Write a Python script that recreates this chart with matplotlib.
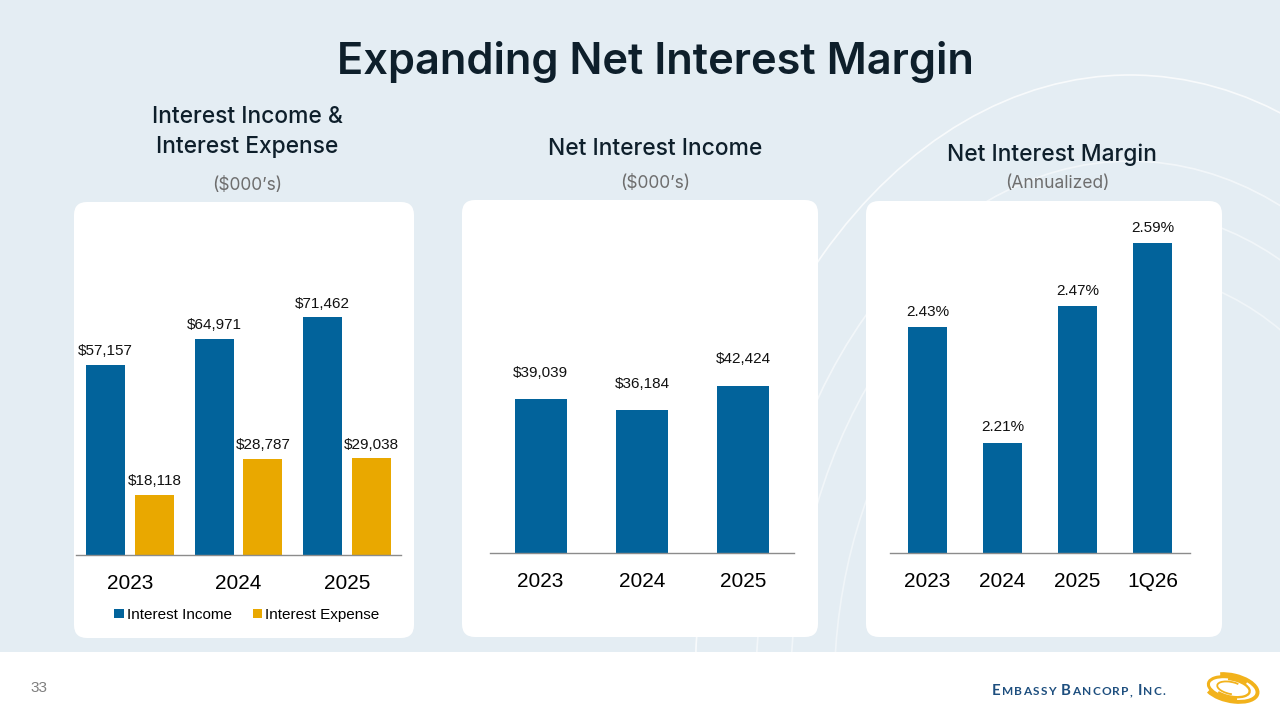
import matplotlib
matplotlib.use("Agg")
import matplotlib.pyplot as plt
from matplotlib.patches import FancyBboxPatch, Rectangle, Arc, Ellipse
import numpy as np

# ---------------- data ----------------
years3 = ["2023", "2024", "2025"]
interest_income = [57157, 64971, 71462]
interest_expense = [18118, 28787, 29038]
net_interest_income = [39039, 36184, 42424]
nim_periods = ["2023", "2024", "2025", "1Q26"]
nim_values = [2.43, 2.21, 2.47, 2.59]

title = "Expanding Net Interest Margin"
sub1 = "Interest Income &\nInterest Expense"
sub2 = "Net Interest Income"
sub3 = "Net Interest Margin"
unit1 = "($000\u2019s)"
unit3 = "(Annualized)"

BLUE = "#02639B"
GOLD = "#E9A800"
DARK = "#0E1F2B"
GRAY = "#6E6E6E"
BG = "#E4EDF3"

W, H = 1280, 720
fig = plt.figure(figsize=(12.8, 7.2), dpi=100)
fig.patch.set_facecolor(BG)
IN = fig.dpi_scale_trans


def inch(x, y):
    return x / 100.0, (H - y) / 100.0


def axrect(x0, y0, x1, y1):
    return [x0 / W, 1 - y1 / H, (x1 - x0) / W, (y1 - y0) / H]


# decorative curves
cx, cy = inch(1130, 690)
for k, a in [(1.0, 0.75), (0.86, 0.55), (0.78, 0.5), (0.68, 0.45)]:
    fig.add_artist(Ellipse((cx, cy), 8.7 * k, 12.3 * k, transform=IN,
                           facecolor="none", edgecolor="white", lw=1.2,
                           alpha=a, zorder=-10))
cx2, cy2 = inch(690, 900)
for r, a in [(2.7, 0.6), (3.3, 0.5)]:
    fig.add_artist(Ellipse((cx2, cy2), r, r * 1.3, transform=IN,
                           facecolor="none", edgecolor="white", lw=1.1,
                           alpha=a, zorder=-10))

# white panels
for (x0, y0, x1, y1) in [(74, 202, 414, 638), (462, 200, 818, 637), (866, 201, 1222, 637)]:
    px, py = inch(x0, y1)
    p = FancyBboxPatch((px, py), (x1 - x0) / 100, (y1 - y0) / 100,
                       boxstyle="round,pad=0,rounding_size=0.13",
                       transform=IN, facecolor="white", edgecolor="none", zorder=-5)
    fig.add_artist(p)

# bottom white band
band = Rectangle((0, 0), 12.8, (H - 652) / 100, transform=IN,
                 facecolor="white", edgecolor="none", zorder=-4)
fig.add_artist(band)

# titles
fig.text(655 / W, 1 - 62 / H, title, ha="center", va="center",
         fontsize=31.3, family="Inter", weight="semibold", color=DARK)
fig.text(247 / W, 1 - 132 / H, sub1, ha="center", va="center", fontsize=16.4,
         family="Inter", weight="medium", color=DARK, linespacing=1.45)
fig.text(247 / W, 1 - 185 / H, unit1, ha="center", va="center", fontsize=12.5,
         family="Inter", color=GRAY)
fig.text(655 / W, 1 - 149 / H, sub2, ha="center", va="center", fontsize=16.4,
         family="Inter", weight="medium", color=DARK)
fig.text(655 / W, 1 - 184 / H, unit1, ha="center", va="center", fontsize=12.5,
         family="Inter", color=GRAY)
fig.text(1052 / W, 1 - 155 / H, sub3, ha="center", va="center", fontsize=16.4,
         family="Inter", weight="medium", color=DARK)
fig.text(1057 / W, 1 - 183 / H, unit3, ha="center", va="center", fontsize=12.5,
         family="Inter", color=GRAY)

LBL = "Liberation Sans"


def style(ax):
    ax.set_facecolor("none")
    for s in ["top", "right", "left"]:
        ax.spines[s].set_visible(False)
    ax.spines["bottom"].set_color("#8C8C8C")
    ax.spines["bottom"].set_linewidth(1.0)
    ax.tick_params(axis="x", length=0, pad=14, labelsize=15, labelcolor="black")
    ax.set_yticks([])
    for t in ax.get_xticklabels():
        t.set_family(LBL)


# ---- panel 1 ----
ax1 = fig.add_axes(axrect(76, 215, 401, 555))
x = np.arange(len(years3))
w = 0.36
off = 0.226
b1 = ax1.bar(x - off, interest_income, w, color=BLUE, label="Interest Income")
b2 = ax1.bar(x + off, interest_expense, w, color=GOLD, label="Interest Expense")
ax1.set_xlim(-0.5, 2.5)
ax1.set_ylim(0, 102300)
ax1.set_xticks(x, years3)
style(ax1)
for bars, vals in [(b1, interest_income), (b2, interest_expense)]:
    for rect, v in zip(bars, vals):
        ax1.annotate(f"${v:,}", (rect.get_x() + rect.get_width() / 2, v),
                     xytext=(0, 5), textcoords="offset points", ha="center",
                     va="bottom", fontsize=11, family=LBL, color="#111111")
ax1.legend(loc="center", bbox_to_anchor=(247 / W, 1 - 615 / H),
           bbox_transform=fig.transFigure, ncol=2, frameon=False,
           handlelength=0.6, handleheight=0.6, handletextpad=0.2,
           columnspacing=1.4, prop={"family": LBL, "size": 11})

# ---- panel 2 ----
ax2 = fig.add_axes(axrect(490, 215, 794, 553))
b = ax2.bar(x, net_interest_income, 0.51, color=BLUE)
ax2.set_xlim(-0.5, 2.5)
ax2.set_ylim(0, 85700)
ax2.set_xticks(x, years3)
style(ax2)
for rect, v in zip(b, net_interest_income):
    ax2.annotate(f"${v:,}", (rect.get_x() + rect.get_width() / 2, v),
                 xytext=(0, 14), textcoords="offset points", ha="center",
                 va="bottom", fontsize=11, family=LBL, color="#111111")

# ---- panel 3 ----
ax3 = fig.add_axes(axrect(890, 215, 1190, 553))
x4 = np.arange(len(nim_periods))
b = ax3.bar(x4, nim_values, 0.52, color=BLUE, bottom=0)
ax3.set_xlim(-0.5, 3.5)
ax3.set_ylim(2.0, 2.643)
ax3.set_xticks(x4, nim_periods)
style(ax3)
for rect, v in zip(b, nim_values):
    ax3.annotate(f"{v:.2f}%", (rect.get_x() + rect.get_width() / 2, v),
                 xytext=(0, 6), textcoords="offset points", ha="center",
                 va="bottom", fontsize=11, family=LBL, color="#111111")

# ---- footer ----
fig.text(39 / W, 1 - 688 / H, "33", ha="center", va="center", fontsize=11,
         family=LBL, color="#7F7F7F")

# logo text in small caps with letter tracking, scaled to fit its slot
renderer = fig.canvas.get_renderer()
logo = "EMBASSY BANCORP, INC."
big_letters = {0, 8, 17}
target = 173.0
track = 1.2


def draw_logo(base, keep):
    xpos = 992.0
    arts = []
    for i, ch in enumerate(logo):
        fs = base if i in big_letters else base * 0.8
        t = fig.text(xpos / W, 1 - 695 / H, ch if ch != " " else "\u00a0",
                     ha="left", va="baseline", fontsize=fs,
                     family="Lato", weight="bold", color="#1D4E7E")
        bb = t.get_window_extent(renderer=renderer)
        xpos += bb.width + track
        arts.append(t)
    if not keep:
        for a in arts:
            a.remove()
    return xpos - track - 992.0


wdt = draw_logo(14, False)
base = 14 * (target - track * (len(logo) - 1)) / (wdt - track * (len(logo) - 1))
draw_logo(base, True)

# swoosh
for (wd, ht, lw, t1, t2) in [(5.4, 2.6, 2.8, 200, 500), (4.6, 2.1, 2.2, 30, 310),
                             (3.8, 1.7, 1.7, 210, 480), (2.8, 1.2, 1.3, 40, 290)]:
    sx, sy = inch(1231, 688)
    fig.add_artist(Arc((sx, sy), wd / 10, ht / 10, angle=-12, theta1=t1, theta2=t2,
                       transform=IN, color="#F2B21B", lw=lw, zorder=2))

fig.savefig("out.png", dpi=100, facecolor=BG)
